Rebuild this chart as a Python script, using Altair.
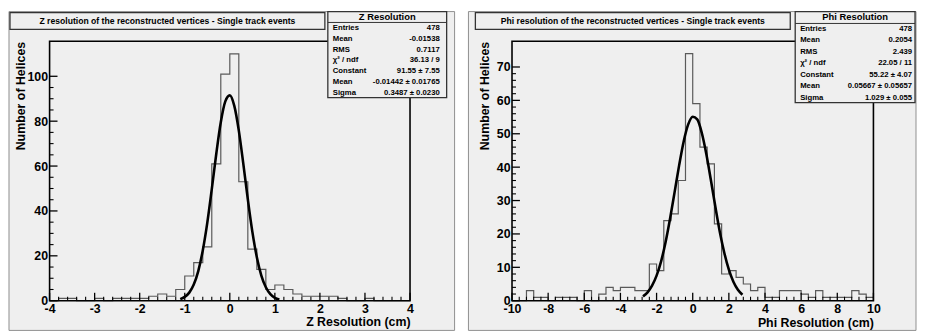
import altair as alt
import pandas as pd

FONT = "Liberation Sans"
BG = "#efefef"

# ---------------- text ----------------
z_title = "Z resolution of the reconstructed vertices - Single track events"
phi_title = "Phi resolution of the reconstructed vertices - Single track events"
z_box_header = "Z Resolution"
phi_box_header = "Phi Resolution"
stat_labels = ["Entries", "Mean", "RMS", "χ² / ndf", "Constant", "Mean", "Sigma"]
z_stat_values = ["478", "-0.01538", "0.7117", "36.13 / 9", "91.55 ± 7.55",
                 "-0.01442 ± 0.01765", "0.3487 ± 0.0230"]
phi_stat_values = ["478", "0.2054", "2.439", "22.05 / 11", "55.22 ± 4.07",
                   "0.05667 ± 0.05657", "1.029 ± 0.055"]
y_title = "Number of Helices"
z_x_title = "Z Resolution (cm)"
phi_x_title = "Phi Resolution (cm)"

# ---------------- Z histogram ----------------
z_bin_edges = [-4.0, -3.8, -3.6, -3.4, -3.2, -3.0, -2.8, -2.6, -2.4, -2.2,
               -2.0, -1.8, -1.6, -1.4, -1.2, -1.0, -0.8, -0.6, -0.4, -0.2,
               0.0, 0.2, 0.4, 0.6, 0.8, 1.0, 1.2, 1.4, 1.6, 1.8,
               2.0, 2.2, 2.4, 2.6, 2.8, 3.0, 3.2, 3.4, 3.6, 3.8, 4.0]
z_counts = [0, 1, 1, 0, 0, 1, 0, 1, 1, 1,
            1, 2, 3, 2, 5, 11, 17, 24, 61, 101,
            110, 53, 23, 14, 5, 7, 5, 3, 2, 2,
            2, 2, 1, 0, 0, 1, 0, 0, 0, 0]
z_fit_x = [-1.1, -1.0, -0.9, -0.8, -0.7, -0.6, -0.5, -0.4, -0.3, -0.2, -0.1, 0.0,
           0.1, 0.2, 0.3, 0.4, 0.5, 0.6, 0.7, 0.8, 0.9, 1.0, 1.1]
z_fit_y = [0.7, 1.7, 3.6, 7.2, 13.2, 22.4, 34.7, 49.7, 65.5, 79.5, 88.8, 91.5,
           86.8, 75.8, 61.0, 45.2, 30.8, 19.4, 11.2, 6.0, 2.9, 1.3, 0.55]
z_x_major = [-4, -3, -2, -1, 0, 1, 2, 3, 4]
z_y_major = [0, 20, 40, 60, 80, 100]

# ---------------- Phi histogram ----------------
phi_bin_edges = [-10.0, -9.6, -9.2, -8.8, -8.4, -8.0, -7.6, -7.2, -6.8, -6.4,
                 -6.0, -5.6, -5.2, -4.8, -4.4, -4.0, -3.6, -3.2, -2.8, -2.4,
                 -2.0, -1.6, -1.2, -0.8, -0.4, 0.0, 0.4, 0.8, 1.2, 1.6,
                 2.0, 2.4, 2.8, 3.2, 3.6, 4.0, 4.4, 4.8, 5.2, 5.6,
                 6.0, 6.4, 6.8, 7.2, 7.6, 8.0, 8.4, 8.8, 9.2, 9.6, 10.0]
phi_counts = [0, 0, 3, 1, 1, 0, 1, 1, 1, 0,
              3, 0, 2, 4, 3, 4, 4, 3, 3, 11,
              9, 24, 26, 36, 74, 59, 46, 41, 23, 8,
              9, 7, 5, 3, 4, 1, 1, 3, 3, 3,
              2, 1, 3, 1, 1, 1, 1, 3, 2, 1]
phi_fit_x = [-2.75, -2.5, -2.25, -2.0, -1.75, -1.5, -1.25, -1.0, -0.75, -0.5, -0.25, 0.0,
             0.25, 0.5, 0.75, 1.0, 1.25, 1.5, 1.75, 2.0, 2.25, 2.5, 2.75]
phi_fit_y = [1.3, 2.5, 4.5, 7.5, 11.8, 17.6, 24.7, 32.6, 40.6, 47.7, 52.8, 55.1,
             54.3, 50.3, 44.0, 36.3, 28.2, 20.6, 14.3, 9.3, 5.7, 3.3, 1.8]
phi_x_major = [-10, -8, -6, -4, -2, 0, 2, 4, 6, 8, 10]
phi_y_major = [0, 10, 20, 30, 40, 50, 60, 70]


def ticks_between(major, nsub):
    out = []
    for a, b in zip(major[:-1], major[1:]):
        for k in range(1, nsub):
            out.append(a + (b - a) * k / nsub)
    return out


def panel(edges, counts, fit_x, fit_y, xdom, ydom, xmaj, xsub, ymaj, ysub,
          W, H, xtitle, title, header, values, geo):
    one = pd.DataFrame({"k": [0]})
    xs = alt.Scale(domain=xdom, nice=False, zero=False)
    ys = alt.Scale(domain=ydom, nice=False, zero=False)
    common = dict(grid=False, ticks=False, domain=False, labelFont=FONT,
                  labelFontWeight="bold", labelFontSize=12.5, labelColor="black",
                  labelPadding=2, labelFlush=False, labelOverlap=False,
                  labelExpr="'' + datum.value", titleFont=FONT,
                  titleFontWeight="bold", titleFontSize=12.5, titleColor="black",
                  titleBaseline="middle", zindex=1)
    xaxis = alt.Axis(values=xmaj, title=xtitle, titleAlign="right", titleAngle=0,
                     titleX=W, titleY=geo["xtitle_dy"], **common)
    yaxis = alt.Axis(values=ymaj, title=y_title, titleAngle=-90, titleAlign="right",
                     titleX=geo["ytitle_x"], titleY=0, **common)
    X = lambda: alt.X("x:Q", scale=xs, axis=xaxis)
    Y = lambda: alt.Y("y:Q", scale=ys, axis=yaxis)

    frame = alt.Chart(one).mark_rect(fill=BG, stroke="#8f8f8f", strokeWidth=1).encode(
        x=alt.value(geo["frame"][0]), x2=alt.value(geo["frame"][1]),
        y=alt.value(geo["frame"][2]), y2=alt.value(geo["frame"][3]))

    hist_df = pd.DataFrame({"x": edges, "y": counts + [counts[-1]]})
    hist = alt.Chart(hist_df).mark_line(interpolate="step-after", color="#5a5a5a",
                                        strokeWidth=1.2).encode(x=X(), y=Y())
    fit_df = pd.DataFrame({"x": fit_x, "y": fit_y})
    fit = alt.Chart(fit_df).mark_line(interpolate="monotone", color="black",
                                      strokeWidth=2.6).encode(x=X(), y=Y())

    border = alt.Chart(one).mark_rect(fillOpacity=0, stroke="black", strokeWidth=1.6).encode(
        x=alt.value(0), x2=alt.value(W), y=alt.value(0), y2=alt.value(H))

    xmin = ticks_between(xmaj, xsub)
    ymin = ticks_between(ymaj, ysub)
    xt_major = alt.Chart(pd.DataFrame({"x": xmaj})).mark_rule(color="black", strokeWidth=1.3).encode(
        x=X(), y=alt.value(H), y2=alt.value(H - 8))
    xt_minor = alt.Chart(pd.DataFrame({"x": xmin})).mark_rule(color="black", strokeWidth=1.1).encode(
        x=X(), y=alt.value(H), y2=alt.value(H - 4))
    yt_major = alt.Chart(pd.DataFrame({"y": ymaj})).mark_rule(color="black", strokeWidth=1.3).encode(
        y=Y(), x=alt.value(0), x2=alt.value(8))
    yt_minor = alt.Chart(pd.DataFrame({"y": ymin})).mark_rule(color="black", strokeWidth=1.1).encode(
        y=Y(), x=alt.value(0), x2=alt.value(4))

    tb = geo["tbox"]
    tbox = alt.Chart(one).mark_rect(fill=BG, stroke="#333333", strokeWidth=1.3).encode(
        x=alt.value(tb[0]), x2=alt.value(tb[1]), y=alt.value(tb[2]), y2=alt.value(tb[3]))
    ttext = alt.Chart(one).mark_text(font=FONT, fontWeight="bold", fontSize=8.7,
                                     align="center", baseline="middle", color="black").encode(
        x=alt.value((tb[0] + tb[1]) / 2), y=alt.value((tb[2] + tb[3]) / 2 + 0.5),
        text=alt.value(title))

    sb = geo["sbox"]
    sbox = alt.Chart(one).mark_rect(fill=BG, stroke="#333333", strokeWidth=1.3).encode(
        x=alt.value(sb[0]), x2=alt.value(sb[1]), y=alt.value(sb[2]), y2=alt.value(sb[3]))
    sep = alt.Chart(one).mark_rule(color="#333333", strokeWidth=1).encode(
        x=alt.value(sb[0]), x2=alt.value(sb[1]), y=alt.value(geo["sep_y"]))
    htext = alt.Chart(one).mark_text(font=FONT, fontWeight="bold", fontSize=9.5,
                                     align="center", baseline="middle", color="black").encode(
        x=alt.value((sb[0] + sb[1]) / 2), y=alt.value(geo["head_y"]), text=alt.value(header))
    rows = []
    for i, (lab, val) in enumerate(zip(stat_labels, values)):
        yy = geo["row0"] + geo["rowstep"] * i
        rows.append(alt.Chart(one).mark_text(font=FONT, fontWeight="bold", fontSize=7.8,
                                             align="left", baseline="middle", color="black").encode(
            x=alt.value(geo["lab_x"]), y=alt.value(yy), text=alt.value(lab)))
        rows.append(alt.Chart(one).mark_text(font=FONT, fontWeight="bold", fontSize=7.8,
                                             align="right", baseline="middle", color="black").encode(
            x=alt.value(geo["val_x"]), y=alt.value(yy), text=alt.value(val)))

    return alt.layer(frame, hist, fit, border, xt_major, xt_minor, yt_major, yt_minor,
                     tbox, ttext, sbox, sep, htext, *rows).properties(width=W, height=H)


left = panel(z_bin_edges, z_counts, z_fit_x, z_fit_y, [-4, 4], [0, 115.6],
             z_x_major, 5, z_y_major, 4, 364, 262, z_x_title, z_title, z_box_header,
             z_stat_values,
             dict(frame=(-41, 409, -30, 292), tbox=(-40, 278, -29, -12),
                  sbox=(281, 401, -30, 57), sep_y=-19, head_y=-24.5,
                  row0=-13, rowstep=10.8, lab_x=286, val_x=394,
                  xtitle_dy=21, ytitle_x=-29))

right = panel(phi_bin_edges, phi_counts, phi_fit_x, phi_fit_y, [-10, 10], [0, 77.7],
              phi_x_major, 5, phi_y_major, 5, 365, 262, phi_x_title, phi_title, phi_box_header,
              phi_stat_values,
              dict(frame=(-44, 408, -30, 292), tbox=(-37, 281, -29, -12),
                   sbox=(286, 407, -30, 62), sep_y=-18, head_y=-24,
                   row0=-12.5, rowstep=11.6, lab_x=291, val_x=404,
                   xtitle_dy=22, ytitle_x=-28))

chart = alt.hconcat(left, right, spacing=12).properties(padding=0).configure_view(
    stroke=None).configure(background="white")

chart.save("out.html", embed_options={"renderer": "svg", "actions": False})
